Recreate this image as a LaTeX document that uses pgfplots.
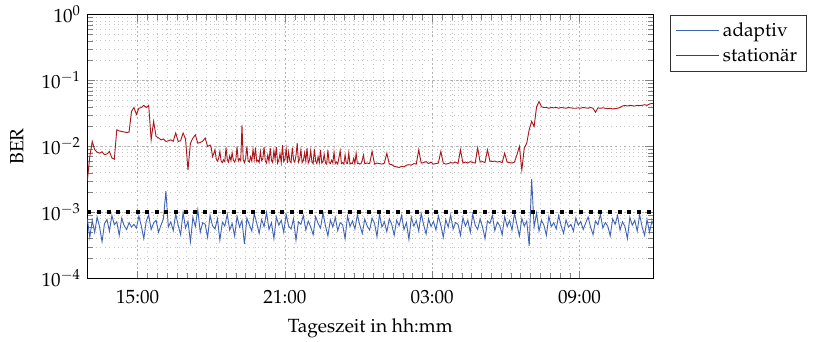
\documentclass[border=0pt]{standalone}
\usepackage[T1]{fontenc}
\usepackage{mathpazo}
\usepackage{pgfplots}
\usepackage{pgfplotstable}
\pgfplotsset{compat=1.18}

\definecolor{adblue}{RGB}{64,100,180}
\definecolor{stred}{RGB}{170,22,28}

% t = Tageszeit in Stunden (24+ = naechster Tag)
% adaptiv
\pgfplotstableread{
t a
12.95 8.0e-4
13.05 4.2e-4
13.15 7.5e-4
13.25 5.0e-4
13.35 8.5e-4
13.45 6.0e-4
13.55 3.6e-4
13.65 6.8e-4
13.75 7.8e-4
13.85 5.2e-4
13.95 9.0e-4
14.05 6.5e-4
14.15 7.2e-4
14.25 4.5e-4
14.35 8.2e-4
14.45 6.3e-4
14.55 5.5e-4
14.65 7.0e-4
14.75 6.0e-4
14.85 6.6e-4
14.95 5.8e-4
15.05 8.8e-4
15.15 6.2e-4
15.25 4.0e-4
15.35 7.4e-4
15.45 9.2e-4
15.55 5.5e-4
15.65 6.9e-4
15.75 7.6e-4
15.85 5.0e-4
15.95 6.4e-4
16.05 8.0e-4
16.15 2.1e-3
16.25 6.0e-4
16.35 7.2e-4
16.45 5.3e-4
16.55 9.5e-4
16.65 6.4e-4
16.75 4.6e-4
16.85 1.0e-3
16.95 5.8e-4
17.05 7.3e-4
17.15 3.6e-4
17.25 8.4e-4
17.35 6.1e-4
17.45 1.1e-3
17.55 5.0e-4
17.65 7.0e-4
17.75 6.6e-4
17.85 4.2e-4
17.95 9.0e-4
18.05 6.3e-4
18.15 5.6e-4
18.25 8.0e-4
18.35 3.8e-4
18.45 7.1e-4
18.55 6.2e-4
18.65 9.4e-4
18.75 5.4e-4
18.85 6.8e-4
18.95 4.4e-4
19.05 8.7e-4
19.15 6.0e-4
19.25 7.5e-4
19.35 3.3e-4
19.45 8.2e-4
19.55 6.5e-4
19.65 5.2e-4
19.75 9.6e-4
19.85 6.9e-4
19.95 4.8e-4
20.05 7.8e-4
20.15 6.1e-4
20.25 1.0e-3
20.35 5.5e-4
20.45 7.0e-4
20.55 4.0e-4
20.65 8.5e-4
20.75 6.4e-4
20.85 7.6e-4
20.95 5.0e-4
21.05 9.3e-4
21.15 6.2e-4
21.25 5.6e-4
21.35 8.0e-4
21.45 3.8e-4
21.55 7.2e-4
21.65 6.6e-4
21.75 9.0e-4
21.85 5.4e-4
21.95 7.4e-4
22.05 6.0e-4
22.15 4.6e-4
22.25 8.6e-4
22.35 6.8e-4
22.45 5.8e-4
22.55 9.8e-4
22.65 6.3e-4
22.75 4.4e-4
22.85 7.7e-4
22.95 6.0e-4
23.05 8.4e-4
23.15 5.3e-4
23.25 7.0e-4
23.35 6.5e-4
23.45 4.0e-4
23.55 8.8e-4
23.65 6.1e-4
23.75 7.4e-4
23.85 5.6e-4
23.95 9.2e-4
24.05 6.4e-4
24.15 4.8e-4
24.25 7.9e-4
24.35 6.2e-4
24.45 5.4e-4
24.55 8.2e-4
24.65 6.8e-4
24.75 4.3e-4
24.85 9.4e-4
24.95 6.0e-4
25.05 7.2e-4
25.15 5.1e-4
25.25 8.0e-4
25.35 6.6e-4
25.45 4.5e-4
25.55 7.6e-4
25.65 6.3e-4
25.75 9.0e-4
25.85 5.5e-4
25.95 7.0e-4
26.05 3.9e-4
26.15 8.4e-4
26.25 6.2e-4
26.35 7.5e-4
26.45 5.2e-4
26.55 9.6e-4
26.65 6.5e-4
26.75 4.7e-4
26.85 8.0e-4
26.95 6.1e-4
27.05 7.3e-4
27.15 5.4e-4
27.25 8.8e-4
27.35 6.4e-4
27.45 4.2e-4
27.55 7.8e-4
27.65 6.0e-4
27.75 9.1e-4
27.85 5.6e-4
27.95 7.0e-4
28.05 6.6e-4
28.15 4.5e-4
28.25 8.3e-4
28.35 6.2e-4
28.45 7.6e-4
28.55 5.0e-4
28.65 9.4e-4
28.75 6.4e-4
28.85 5.5e-4
28.95 8.0e-4
29.05 6.0e-4
29.15 4.0e-4
29.25 7.4e-4
29.35 6.8e-4
29.45 9.0e-4
29.55 5.3e-4
29.65 7.1e-4
29.75 6.3e-4
29.85 4.6e-4
29.95 8.6e-4
30.05 6.1e-4
30.15 7.5e-4
30.25 5.4e-4
30.35 9.7e-4
30.45 6.5e-4
30.55 4.4e-4
30.65 8.1e-4
30.75 6.2e-4
30.85 7.4e-4
30.95 3.1e-4
31.05 3.2e-3
31.15 6.0e-4
31.25 9.8e-4
31.35 5.2e-4
31.45 7.6e-4
31.55 6.4e-4
31.65 4.5e-4
31.75 8.7e-4
31.85 6.1e-4
31.95 7.0e-4
32.05 5.6e-4
32.15 9.0e-4
32.25 6.3e-4
32.35 4.8e-4
32.45 7.7e-4
32.55 6.0e-4
32.65 6.6e-4
32.75 5.2e-4
32.85 8.2e-4
32.95 6.4e-4
33.05 7.3e-4
33.15 5.5e-4
33.25 6.9e-4
33.35 8.5e-4
33.45 6.0e-4
33.55 4.6e-4
33.65 7.4e-4
33.75 6.5e-4
33.85 9.4e-4
33.95 5.8e-4
34.05 7.0e-4
34.15 6.2e-4
34.25 4.4e-4
34.35 8.0e-4
34.45 6.6e-4
34.55 9.0e-4
34.65 5.4e-4
34.75 7.2e-4
34.85 6.1e-4
34.95 4.0e-4
35.05 8.4e-4
35.15 6.4e-4
35.25 7.6e-4
35.35 5.2e-4
35.45 9.2e-4
35.55 6.0e-4
35.65 4.5e-4
35.75 7.8e-4
35.85 5.0e-4
35.95 7.4e-4
36.05 6.0e-4
}\adaptivtable

% stationaer
\pgfplotstableread{
t s
12.95 3.0e-3
13.05 7.0e-3
13.15 1.19e-2
13.25 8.9e-3
13.35 8.2e-3
13.45 7.9e-3
13.55 8.3e-3
13.65 7.5e-3
13.75 7.7e-3
13.85 8.4e-3
13.95 6.7e-3
14.05 6.4e-3
14.15 1.79e-2
14.25 1.72e-2
14.35 1.69e-2
14.45 1.66e-2
14.55 1.63e-2
14.65 1.65e-2
14.75 3.4e-2
14.85 3.9e-2
14.95 3.06e-2
15.05 3.8e-2
15.15 3.9e-2
15.25 4.2e-2
15.35 3.9e-2
15.45 4.2e-2
15.55 1.26e-2
15.65 2.4e-2
15.75 1.42e-2
15.85 1.35e-2
15.95 1.26e-2
16.05 1.3e-2
16.15 1.19e-2
16.25 1.22e-2
16.35 1.26e-2
16.45 1.2e-2
16.55 1.6e-2
16.65 1.19e-2
16.75 1.22e-2
16.85 1.6e-2
16.95 1.3e-2
17.05 4.4e-3
17.15 1.12e-2
17.25 1.34e-2
17.35 1.5e-2
17.45 1.12e-2
17.55 1.15e-2
17.65 1.2e-2
17.75 1.34e-2
17.85 1.0e-2
17.95 1.05e-2
18.00 9.5e-3
18.05 7.0e-3
18.10 7.8e-3
18.15 8.9e-3
18.20 6.5e-3
18.25 6.0e-3
18.30 6.6e-3
18.35 8.4e-3
18.40 6.0e-3
18.45 5.7e-3
18.50 6.3e-3
18.55 5.9e-3
18.60 9.6e-3
18.65 6.4e-3
18.70 5.8e-3
18.75 7.2e-3
18.80 6.1e-3
18.85 8.0e-3
18.90 6.2e-3
18.95 5.8e-3
19.00 6.4e-3
19.05 9.8e-3
19.10 6.0e-3
19.15 6.5e-3
19.20 6.1e-3
19.25 2.1e-2
19.30 6.3e-3
19.35 5.7e-3
19.40 6.6e-3
19.45 1.0e-2
19.50 6.0e-3
19.55 5.8e-3
19.60 7.0e-3
19.65 6.0e-3
19.70 9.0e-3
19.75 6.4e-3
19.80 9.6e-3
19.85 5.9e-3
19.90 6.2e-3
19.95 5.7e-3
20.00 8.4e-3
20.05 6.1e-3
20.10 6.5e-3
20.15 9.8e-3
20.20 6.0e-3
20.25 5.6e-3
20.30 7.4e-3
20.35 5.9e-3
20.40 9.4e-3
20.45 6.2e-3
20.50 5.7e-3
20.55 8.6e-3
20.60 6.4e-3
20.65 9.8e-3
20.70 5.6e-3
20.75 6.2e-3
20.80 7.8e-3
20.85 5.7e-3
20.90 1.05e-2
20.95 5.9e-3
21.00 6.5e-3
21.05 9.2e-3
21.10 5.6e-3
21.15 8.2e-3
21.20 6.0e-3
21.25 5.7e-3
21.30 9.6e-3
21.35 6.3e-3
21.40 5.8e-3
21.45 7.3e-3
21.50 1.12e-2
21.55 5.8e-3
21.60 6.4e-3
21.65 8.9e-3
21.70 5.7e-3
21.75 6.1e-3
21.80 8.0e-3
21.85 6.0e-3
21.90 9.4e-3
21.95 5.6e-3
22.00 6.2e-3
22.05 8.7e-3
22.10 5.8e-3
22.15 5.5e-3
22.20 9.2e-3
22.25 6.0e-3
22.30 5.5e-3
22.35 7.0e-3
22.40 5.7e-3
22.45 8.9e-3
22.50 5.6e-3
22.55 5.9e-3
22.60 7.6e-3
22.65 5.6e-3
22.70 5.4e-3
22.75 8.8e-3
22.80 5.7e-3
22.85 5.5e-3
22.90 6.2e-3
22.95 5.6e-3
23.00 8.2e-3
23.05 5.5e-3
23.10 5.8e-3
23.15 5.4e-3
23.20 6.8e-3
23.25 8.6e-3
23.30 5.5e-3
23.35 5.7e-3
23.40 5.4e-3
23.45 7.4e-3
23.50 5.6e-3
23.55 5.5e-3
23.60 8.0e-3
23.65 5.4e-3
23.70 5.6e-3
23.75 5.5e-3
23.80 6.6e-3
23.85 5.5e-3
23.90 7.9e-3
23.95 5.5e-3
24.00 5.6e-3
24.05 5.4e-3
24.10 5.5e-3
24.15 6.2e-3
24.20 7.4e-3
24.25 5.5e-3
24.35 5.6e-3
24.45 5.5e-3
24.55 8.4e-3
24.65 5.4e-3
24.75 5.6e-3
24.85 5.5e-3
24.95 5.4e-3
25.05 5.6e-3
25.15 7.9e-3
25.25 5.4e-3
25.35 5.3e-3
25.45 5.0e-3
25.55 4.9e-3
25.65 4.8e-3
25.75 5.0e-3
25.85 4.9e-3
25.95 5.2e-3
26.05 5.3e-3
26.15 5.2e-3
26.25 5.5e-3
26.35 5.4e-3
26.45 8.9e-3
26.55 5.6e-3
26.65 5.7e-3
26.75 5.9e-3
26.85 5.5e-3
26.95 5.8e-3
27.05 5.4e-3
27.15 5.5e-3
27.25 5.6e-3
27.35 8.4e-3
27.45 5.6e-3
27.55 5.4e-3
27.65 5.5e-3
27.75 5.7e-3
27.85 5.6e-3
27.95 5.8e-3
28.05 5.5e-3
28.15 8.9e-3
28.25 5.6e-3
28.35 5.8e-3
28.45 5.6e-3
28.55 5.9e-3
28.65 5.7e-3
28.75 5.6e-3
28.85 9.5e-3
28.95 5.8e-3
29.05 5.9e-3
29.15 5.7e-3
29.25 8.9e-3
29.35 6.0e-3
29.45 5.9e-3
29.55 6.0e-3
29.65 5.8e-3
29.75 5.9e-3
29.85 5.7e-3
29.95 7.9e-3
30.05 5.8e-3
30.15 5.7e-3
30.25 5.6e-3
30.35 5.8e-3
30.45 7.5e-3
30.55 1.0e-2
30.65 4.4e-3
30.75 9.5e-3
30.85 1.12e-2
30.95 1.8e-2
31.05 2.4e-2
31.15 2.0e-2
31.25 4.0e-2
31.35 4.8e-2
31.45 4.0e-2
31.55 3.9e-2
31.65 3.9e-2
31.75 3.8e-2
31.85 3.9e-2
31.95 3.85e-2
32.05 3.9e-2
32.15 3.8e-2
32.25 3.9e-2
32.35 3.85e-2
32.45 3.8e-2
32.55 3.9e-2
32.65 3.85e-2
32.75 3.8e-2
32.85 3.8e-2
32.95 3.85e-2
33.05 3.8e-2
33.15 3.9e-2
33.25 3.85e-2
33.35 3.8e-2
33.45 3.9e-2
33.55 3.8e-2
33.65 3.3e-2
33.75 3.85e-2
33.85 3.8e-2
33.95 3.85e-2
34.05 3.8e-2
34.15 3.75e-2
34.25 3.8e-2
34.35 3.7e-2
34.45 3.75e-2
34.55 3.8e-2
34.65 3.9e-2
34.75 4.1e-2
34.85 4.2e-2
34.95 4.1e-2
35.05 4.2e-2
35.15 4.15e-2
35.25 4.1e-2
35.35 4.2e-2
35.45 4.15e-2
35.55 4.2e-2
35.65 4.3e-2
35.75 4.2e-2
35.85 4.4e-2
35.95 4.5e-2
36.05 4.4e-2
}\stationaertable

\begin{document}
\begin{tikzpicture}
\begin{axis}[
  name=ax,
  scale only axis,
  width=311pt, height=145pt,
  font=\fontsize{10.5}{12.6}\selectfont,
  ymode=log,
  xmin=12.95, xmax=36.0,
  ymin=1e-4, ymax=1,
  xtick={15,21,27,33},
  xticklabels={15:00,21:00,03:00,09:00},
  minor x tick num=14,
  xticklabel shift=3pt,
  xlabel shift=1.5pt,
  ylabel shift=3pt,
  grid=both,
  major grid style={gray!60, dash pattern=on 1pt off 1.5pt},
  minor grid style={gray!45, dotted},
  xlabel={Tageszeit in hh:mm},
  ylabel={BER},
  legend style={at={(1.03,1)}, anchor=north west, draw=black!80,
    font=\fontsize{10.5}{12.6}\selectfont, row sep=1pt},
  legend cell align=left,
  legend image code/.code={\draw[#1] (0cm,0cm) -- (0.82cm,0cm);},
]
\addplot[adblue, line width=0.5pt] table[x=t, y=a] {\adaptivtable};
\addlegendentry{adaptiv}
\addplot[stred, line width=0.5pt] table[x=t, y=s] {\stationaertable};
\addlegendentry{station\"ar}
\addplot[black, line width=2.2pt, dash pattern=on 2.2pt off 3.1pt, forget plot]
  coordinates {(12.95,1e-3) (36.0,1e-3)};
\end{axis}
\pgfresetboundingbox
\path ([shift={(-48pt,-34.6pt)}]ax.south west) rectangle ([shift={(89.5pt,8pt)}]ax.north east);
\end{tikzpicture}
\end{document}
